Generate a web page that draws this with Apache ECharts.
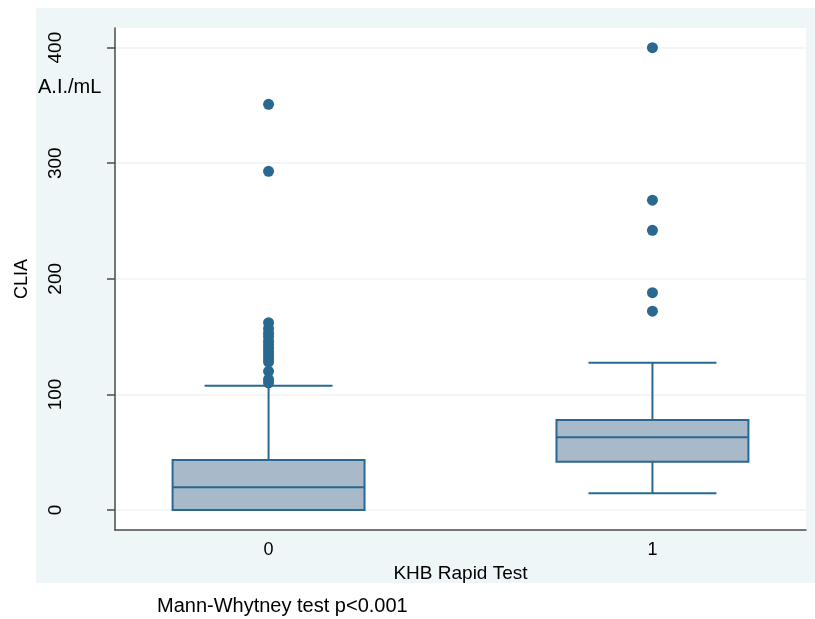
<!DOCTYPE html>
<html>
<head>
<meta charset="utf-8">
<script src="https://cdn.jsdelivr.net/npm/echarts@6/dist/echarts.min.js"></script>
<style>
html, body { margin: 0; padding: 0; background: #fff; }
#main { width: 815px; height: 619px; }
</style>
</head>
<body>
<div id="main"></div>
<script>
// data
const groups = [0, 1]
const groupLabels = ['0', '1']
const boxLow = [0, 14.4]
const boxQ1 = [0, 41.8]
const boxMedian = [19.7, 62.9]
const boxQ3 = [43.3, 77.9]
const boxHigh = [107.6, 127.5]
const outliers0 = [351, 293, 162, 157, 153, 150, 146, 143, 140, 137, 134, 131, 128, 120, 113, 110]
const outliers1 = [400, 268, 242, 188, 172]
const yTicks = [0, 100, 200, 300, 400]

const lineColor = '#2a6891'
const fillColor = '#a8b9c9'
const axisColor = '#4a4a4a'
const font = 'Liberation Sans'

const boxData = groups.map((g, i) => [g, boxLow[i], boxQ1[i], boxMedian[i], boxQ3[i], boxHigh[i]])
const outlierData = outliers0.map(v => [0, v]).concat(outliers1.map(v => [1, v]))

function renderBox(params, api) {
  const x = api.value(0)
  const low = api.coord([x, api.value(1)])
  const q1 = api.coord([x, api.value(2)])
  const med = api.coord([x, api.value(3)])
  const q3 = api.coord([x, api.value(4)])
  const high = api.coord([x, api.value(5)])
  const cx = low[0]
  const halfBox = api.size([0.25, 0])[0]
  const halfCap = api.size([1 / 6, 0])[0]
  const style = { stroke: lineColor, lineWidth: 2, fill: null }
  return {
    type: 'group',
    children: [
      { type: 'line', shape: { x1: cx, y1: q3[1], x2: cx, y2: high[1] }, style },
      { type: 'line', shape: { x1: cx, y1: q1[1], x2: cx, y2: low[1] }, style },
      { type: 'line', shape: { x1: cx - halfCap, y1: high[1], x2: cx + halfCap, y2: high[1] }, style },
      { type: 'line', shape: { x1: cx - halfCap, y1: low[1], x2: cx + halfCap, y2: low[1] }, style },
      {
        type: 'rect',
        shape: { x: cx - halfBox, y: q3[1], width: halfBox * 2, height: q1[1] - q3[1] },
        style: { fill: fillColor, stroke: lineColor, lineWidth: 2 }
      },
      { type: 'line', shape: { x1: cx - halfBox, y1: med[1], x2: cx + halfBox, y2: med[1] }, style }
    ]
  }
}

const myChart = echarts.init(document.getElementById('main'))
const option = {
  backgroundColor: '#fff',
  animation: false,
  graphic: [
    {
      type: 'rect',
      z: -10,
      shape: { x: 36, y: 8, width: 779, height: 575 },
      style: { fill: '#eef6f8' }
    },
    {
      type: 'text',
      style: { text: 'A.I./mL', x: 38, y: 87, verticalAlign: 'middle', font: '20px "Liberation Sans"', fill: '#000' }
    },
    {
      type: 'text',
      style: { text: 'Mann-Whytney test p<0.001', x: 157, y: 606, verticalAlign: 'middle', font: '20px "Liberation Sans"', fill: '#000' }
    }
  ],
  grid: {
    left: 115,
    top: 28,
    right: 9,
    bottom: 89,
    show: true,
    backgroundColor: '#fff',
    borderWidth: 0
  },
  xAxis: {
    type: 'value',
    min: -0.4,
    max: 1.4,
    name: 'KHB Rapid Test',
    nameLocation: 'middle',
    nameGap: 30,
    nameTextStyle: { fontSize: 19, color: '#000', fontFamily: font },
    axisLine: { show: true, onZero: false, lineStyle: { color: axisColor, width: 1.5 } },
    axisTick: { show: false },
    splitLine: { show: false },
    axisLabel: {
      customValues: groups,
      formatter: v => groupLabels[groups.indexOf(v)],
      fontSize: 18,
      color: '#000',
      fontFamily: font,
      margin: 11
    }
  },
  yAxis: {
    type: 'value',
    min: -17.3,
    max: 417,
    name: 'CLIA',
    nameLocation: 'middle',
    nameRotate: 90,
    nameGap: 84,
    nameTextStyle: { fontSize: 18, color: '#000', fontFamily: font },
    axisLine: { show: true, onZero: false, lineStyle: { color: axisColor, width: 1.5 } },
    axisTick: { show: true, length: 8, customValues: yTicks, lineStyle: { color: axisColor, width: 1.5 } },
    splitLine: { show: true, lineStyle: { color: '#edf4f7', width: 1.5 } },
    axisLabel: {
      customValues: yTicks,
      rotate: 90,
      margin: 50,
      fontSize: 19,
      color: '#000',
      fontFamily: font
    }
  },
  series: [
    {
      type: 'custom',
      renderItem: renderBox,
      encode: { x: 0, y: [1, 2, 3, 4, 5] },
      data: boxData
    },
    {
      type: 'scatter',
      symbol: 'circle',
      symbolSize: 11,
      itemStyle: { color: lineColor, opacity: 1 },
      data: outlierData
    }
  ]
}
option && myChart.setOption(option)
</script>
</body>
</html>
